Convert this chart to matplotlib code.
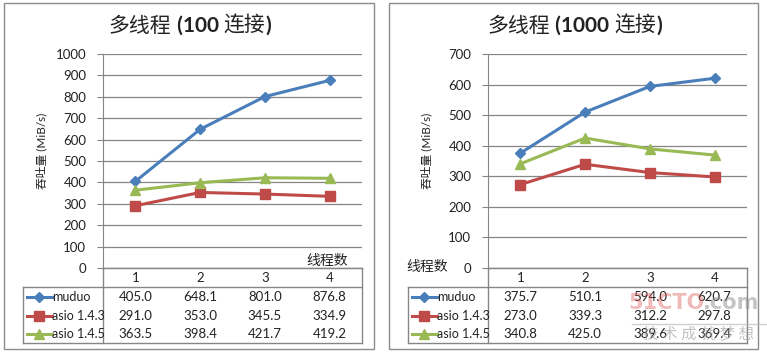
import matplotlib
matplotlib.use("Agg")
import matplotlib.pyplot as plt
from matplotlib.lines import Line2D
from matplotlib.patches import Rectangle

plt.rcParams['font.family'] = ['Lato', 'Noto Sans CJK SC', 'DejaVu Sans']

# data
threads = [1, 2, 3, 4]
series_names = ['muduo', 'asio 1.4.3', 'asio 1.4.5']
conn100 = {
    'muduo': [405.0, 648.1, 801.0, 876.8],
    'asio 1.4.3': [291.0, 353.0, 345.5, 334.9],
    'asio 1.4.5': [363.5, 398.4, 421.7, 419.2],
}
conn1000 = {
    'muduo': [375.7, 510.1, 594.0, 620.7],
    'asio 1.4.3': [273.0, 339.3, 312.2, 297.8],
    'asio 1.4.5': [340.8, 425.0, 389.6, 369.4],
}
# title pieces: (text, bold?)
titles = [
    [('多线程', False), (' (100 ', True), ('连接', False), (')', True)],
    [('多线程', False), (' (1000 ', True), ('连接', False), (')', True)],
]
ymax = [1000, 700]

colors = {'muduo': '#4A7EBB', 'asio 1.4.3': '#BE4B48', 'asio 1.4.5': '#98B954'}
markers = {'muduo': 'D', 'asio 1.4.3': 's', 'asio 1.4.5': '^'}
msizes = {'muduo': 5.5, 'asio 1.4.3': 6.5, 'asio 1.4.5': 7}

W, H = 767, 352
fig = plt.figure(figsize=(W / 100, H / 100), dpi=100)
renderer = fig.canvas.get_renderer()


def fx(x):
    return x / W


def fy(y):
    return 1 - y / H


def hline(x0, x1, y, **kw):
    fig.add_artist(Line2D([fx(x0), fx(x1)], [fy(y), fy(y)], transform=fig.transFigure, **kw))


def vline(x, y0, y1, **kw):
    fig.add_artist(Line2D([fx(x), fx(x)], [fy(y0), fy(y1)], transform=fig.transFigure, **kw))


def title_parts(parts, xc, y, size):
    # draw mixed-weight title centred on xc
    items = []
    total = 0
    for txt, bold in parts:
        t = fig.text(0, fy(y), txt, ha='left', va='center', fontsize=size,
                     fontweight='bold' if bold else 'normal', color='#222222')
        w = t.get_window_extent(renderer).width
        items.append((t, w))
        total += w
    x = xc - total / 2
    for t, w in items:
        t.set_x(fx(x))
        x += w


grey = '#868686'
datasets = [conn100, conn1000]

for i, data in enumerate(datasets):
    off = i * 385
    # chart frame
    fr_l, fr_r = 4 + off, 374 + off if i == 0 else 758
    fig.add_artist(Rectangle((fx(fr_l), fy(349)), fx(fr_r - fr_l), (349 - 3) / H,
                             transform=fig.transFigure, fill=False, ec='#8c8c8c', lw=1))

    pl, pr, pt, pb = 103 + off, 362 + off, 54, 268
    ax = fig.add_axes([fx(pl), fy(pb), fx(pr - pl), (pb - pt) / H])
    for name in series_names:
        ax.plot(threads, data[name], color=colors[name], lw=2.2,
                marker=markers[name], ms=msizes[name], mec=colors[name], zorder=3,
                clip_on=False)
    ax.set_xlim(0.5, 4.5)
    ax.set_ylim(0, ymax[i])
    ax.set_yticks(range(0, ymax[i] + 1, 100))
    ax.set_xticks([])
    ax.grid(axis='y', color=grey, lw=0.9)
    ax.set_axisbelow(True)
    for s in ['top', 'right']:
        ax.spines[s].set_visible(False)
    ax.spines['left'].set_color(grey)
    ax.spines['bottom'].set_color(grey)
    ax.tick_params(axis='y', length=4, color=grey, labelsize=9.5, pad=8, labelcolor='#222222')

    # title and y label
    title_parts(titles[i], 190 + off, 26, 15)
    fig.text(fx(41 + off), fy(151), '吞吐量 (MiB/s)', rotation=90, ha='center',
             va='center', fontsize=8.5, color='#222222')

    # x axis title
    if i == 0:
        fig.text(fx(327 + off), fy(261), '线程数', ha='center', va='center', fontsize=10,
                 color='#222222')
    else:
        fig.text(fx(42 + off), fy(266), '线程数', ha='center', va='center', fontsize=10,
                 color='#222222')

    # data table
    tl = 23 + off
    hline(pl, pr, 268, color=grey, lw=1)
    vline(pr, 268, 343, color=grey, lw=1)
    vline(pl, 268, 343, color=grey, lw=1)
    vline(tl, 287, 343, color=grey, lw=1)
    hline(tl, pr, 287, color=grey, lw=1)
    hline(tl, pr, 343, color=grey, lw=1)
    cat_x = [pl + (pr - pl) * (k + 0.5) / 4 for k in range(4)]
    for k, t in enumerate(threads):
        fig.text(fx(cat_x[k]), fy(278), str(t), ha='center', va='center', fontsize=9.5,
                 color='#222222')
    row_y = [297, 315.5, 334]
    for r, name in enumerate(series_names):
        y = row_y[r]
        fig.add_artist(Line2D([fx(tl + 4), fx(tl + 29)], [fy(y), fy(y)],
                              transform=fig.transFigure, color=colors[name], lw=2.2))
        fig.add_artist(Line2D([fx(tl + 16)], [fy(y)], transform=fig.transFigure,
                              marker=markers[name], ms=msizes[name], color=colors[name],
                              lw=0))
        fig.text(fx(tl + 29), fy(y), name, ha='left', va='center', fontsize=9,
                 color='#222222')
        for k in range(4):
            fig.text(fx(cat_x[k]), fy(y), '%.1f' % data[name][k], ha='center',
                     va='center', fontsize=9.5, color='#222222')

# watermark
fig.text(fx(667), fy(303), '51CTO', ha='center', va='center', fontsize=15,
         fontweight='bold', family='DejaVu Sans', color='#d9534f', alpha=0.4)
fig.text(fx(703), fy(303), '.com', ha='left', va='center', fontsize=15,
         fontweight='bold', family='DejaVu Sans', color='#8c8c8c', alpha=0.5)
hline(632, 767, 324, color='#bbbbbb', lw=1, alpha=0.7)
fig.text(fx(698), fy(334), '技 术 成 就 梦 想', ha='center', va='center', fontsize=11,
         color='#9a9a9a', alpha=0.6)

fig.savefig('out.png', dpi=100)
